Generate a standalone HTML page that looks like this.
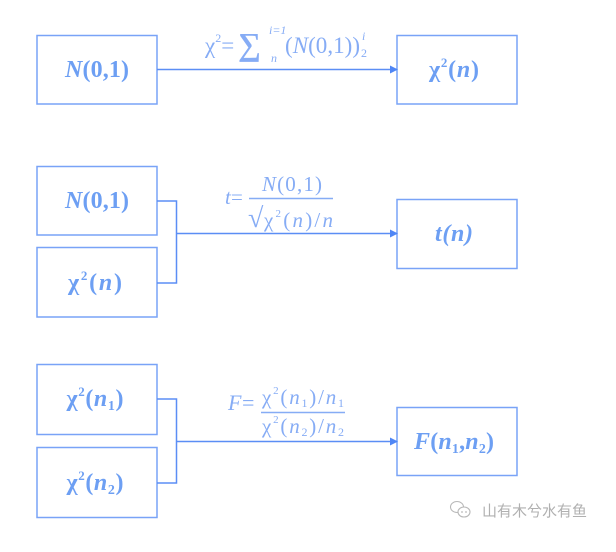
<!DOCTYPE html>
<html><head><meta charset="utf-8">
<style>
html,body{margin:0;padding:0;background:#fff;}
svg{display:block;}
.b{fill:none;stroke:#79a3f7;stroke-width:1.5;}
.l{fill:none;stroke:#5b8ef5;stroke-width:1.5;}
.t{font-family:"Liberation Serif","Times New Roman","DejaVu Serif",serif;font-weight:bold;fill:#6d9ff3;}
.f{font-family:"Liberation Serif","Times New Roman","DejaVu Serif",serif;fill:#86acf5;}
</style></head>
<body>
<svg width="616" height="552" viewBox="0 0 616 552" xmlns="http://www.w3.org/2000/svg">
<defs>
<marker id="ar" markerWidth="8" markerHeight="8" refX="7" refY="4" orient="auto" markerUnits="userSpaceOnUse">
<path d="M0,0 L8,4 L0,8 Z" fill="#4f86f5"/>
</marker>
</defs>
<!-- Row 1 -->
<rect class="b" x="37" y="35.5" width="120" height="68.5"/>
<rect class="b" x="397" y="35.5" width="120" height="68.5"/>
<line class="l" x1="157" y1="69.5" x2="397" y2="69.5" marker-end="url(#ar)"/>
<text class="t" style="font-size:24px" x="97" y="77" text-anchor="middle" textLength="64" lengthAdjust="spacing"><tspan font-style="italic">N</tspan>(0,1)</text>
<text class="t" style="font-size:24px" x="454" y="77" text-anchor="middle" textLength="50" lengthAdjust="spacing">χ<tspan style="font-size:13px" dy="-10">2</tspan><tspan dy="10">(</tspan><tspan font-style="italic">n</tspan>)</text>
<text class="f" style="font-size:23px" x="205" y="53">χ<tspan style="font-size:12px" dy="-11">2</tspan><tspan dy="11">=</tspan></text>
<text class="f" style="font-size:32px;font-weight:bold" x="238" y="55">∑</text>
<text class="f" style="font-size:12px;font-style:italic" x="269" y="34">i=1</text>
<text class="f" style="font-size:12px;font-style:italic" x="271" y="62">n</text>
<text class="f" style="font-size:23px" x="285" y="53" textLength="75" lengthAdjust="spacing">(<tspan font-style="italic">N</tspan>(0,1))</text>
<text class="f" style="font-size:12px;font-style:italic" x="362" y="40">i</text>
<text class="f" style="font-size:12px" x="361" y="57">2</text>

<!-- Row 2 -->
<rect class="b" x="37" y="166.5" width="120" height="68.5"/>
<rect class="b" x="37" y="247.5" width="120" height="69.5"/>
<rect class="b" x="397" y="199.5" width="120" height="69"/>
<polyline class="l" points="157,201 176.5,201 176.5,283 157,283"/>
<line class="l" x1="176.5" y1="233.5" x2="397" y2="233.5" marker-end="url(#ar)"/>
<text class="t" style="font-size:24px" x="97" y="208" text-anchor="middle" textLength="64" lengthAdjust="spacing"><tspan font-style="italic">N</tspan>(0,1)</text>
<text class="t" style="font-size:24px" x="95" y="290" text-anchor="middle" textLength="54" lengthAdjust="spacing">χ<tspan style="font-size:13px" dy="-10">2</tspan><tspan dy="10">(</tspan><tspan font-style="italic">n</tspan>)</text>
<text class="t" style="font-size:24px;font-style:italic" x="454" y="241" text-anchor="middle" textLength="38" lengthAdjust="spacing">t(n)</text>
<text class="f" style="font-size:21px;font-style:italic" x="225" y="204">t</text>
<text class="f" style="font-size:21px" x="231" y="204">=</text>
<line x1="249" y1="198.5" x2="333" y2="198.5" stroke="#86acf5" stroke-width="1.5"/>
<text class="f" style="font-size:21px" x="262" y="191" textLength="60" lengthAdjust="spacing"><tspan font-style="italic">N</tspan>(0,1)</text>
<text class="f" style="font-size:28px;font-weight:bold" x="248" y="227">√</text>
<text class="f" style="font-size:21px" x="264" y="227" textLength="69" lengthAdjust="spacing">χ<tspan style="font-size:11px" dy="-10">2</tspan><tspan dy="10">(</tspan><tspan font-style="italic">n</tspan>)/<tspan font-style="italic">n</tspan></text>

<!-- Row 3 -->
<rect class="b" x="37" y="364.5" width="120" height="70"/>
<rect class="b" x="37" y="447.5" width="120" height="70"/>
<rect class="b" x="397" y="407.5" width="120" height="68"/>
<polyline class="l" points="157,399 176.5,399 176.5,483 157,483"/>
<line class="l" x1="176.5" y1="441.5" x2="397" y2="441.5" marker-end="url(#ar)"/>
<text class="t" style="font-size:24px" x="95" y="406" text-anchor="middle" textLength="57" lengthAdjust="spacing">χ<tspan style="font-size:13px" dy="-10">2</tspan><tspan dy="10">(</tspan><tspan font-style="italic">n</tspan><tspan style="font-size:14px" dy="4">1</tspan><tspan dy="-4">)</tspan></text>
<text class="t" style="font-size:24px" x="95" y="490" text-anchor="middle" textLength="57" lengthAdjust="spacing">χ<tspan style="font-size:13px" dy="-10">2</tspan><tspan dy="10">(</tspan><tspan font-style="italic">n</tspan><tspan style="font-size:14px" dy="4">2</tspan><tspan dy="-4">)</tspan></text>
<text class="t" style="font-size:24px" x="454" y="449" text-anchor="middle" textLength="80" lengthAdjust="spacing"><tspan font-style="italic">F</tspan>(<tspan font-style="italic">n</tspan><tspan style="font-size:14px" dy="4">1</tspan><tspan dy="-4">,</tspan><tspan font-style="italic">n</tspan><tspan style="font-size:14px" dy="4">2</tspan><tspan dy="-4">)</tspan></text>
<text class="f" style="font-size:22px;font-style:italic" x="228" y="410">F</text>
<text class="f" style="font-size:22px" x="242" y="410">=</text>
<line x1="261" y1="412.5" x2="345" y2="412.5" stroke="#86acf5" stroke-width="1.5"/>
<text class="f" style="font-size:21px" x="262" y="404" textLength="82" lengthAdjust="spacing">χ<tspan style="font-size:11px" dy="-10">2</tspan><tspan dy="10">(</tspan><tspan font-style="italic">n</tspan><tspan style="font-size:12px" dy="3">1</tspan><tspan dy="-3">)/</tspan><tspan font-style="italic">n</tspan><tspan style="font-size:12px" dy="3">1</tspan></text>
<text class="f" style="font-size:21px" x="262" y="433" textLength="82" lengthAdjust="spacing">χ<tspan style="font-size:11px" dy="-10">2</tspan><tspan dy="10">(</tspan><tspan font-style="italic">n</tspan><tspan style="font-size:12px" dy="3">2</tspan><tspan dy="-3">)/</tspan><tspan font-style="italic">n</tspan><tspan style="font-size:12px" dy="3">2</tspan></text>

<!-- watermark -->
<g fill="none" stroke="#b8b8b8" stroke-width="1.1">
<ellipse cx="457" cy="507" rx="6.5" ry="5.5"/>
<ellipse cx="464" cy="512" rx="6" ry="5" fill="#fff"/>
</g>
<circle cx="462" cy="512" r="0.9" fill="#b8b8b8"/>
<circle cx="466" cy="512" r="0.9" fill="#b8b8b8"/>
<text x="482" y="516" font-family="'Liberation Sans','Noto Sans CJK SC',sans-serif" font-size="15" fill="#b0b0b0">山有木兮水有鱼</text>
</svg>
</body></html>
